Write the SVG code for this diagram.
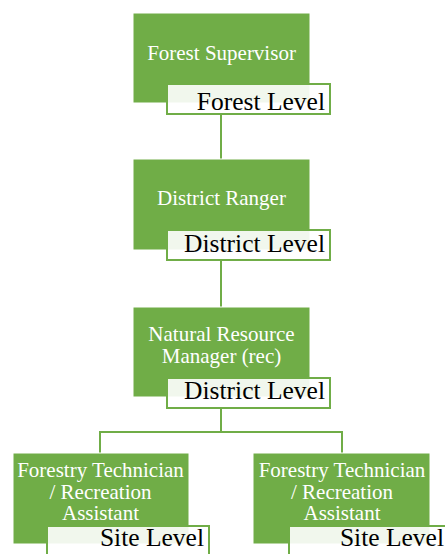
<svg xmlns="http://www.w3.org/2000/svg" width="445" height="554" viewBox="0 0 445 554">
<style>
.box{fill:#70ad47;stroke:#ffffff;stroke-width:1}
.lab{fill:#ffffff;fill-opacity:0.9;stroke:#70ad47;stroke-width:2}
.bt{font-family:'Liberation Serif','Times New Roman','DejaVu Serif',serif;font-size:21px;fill:#ffffff;text-anchor:middle}
.lt{font-family:'Liberation Serif','Times New Roman','DejaVu Serif',serif;font-size:25.5px;fill:#000000;text-anchor:end}
.con{fill:none;stroke:#70ad47;stroke-width:2}
</style>
<rect width="445" height="554" fill="#ffffff"/>
<g id="connectors">
<path class="con" d="M221,114 V159"/>
<path class="con" d="M221,260 V307"/>
<path class="con" d="M221,408 V432"/>
<path class="con" d="M100,453 V432 H342 V453"/>
</g>
<g id="forest-supervisor">
<rect class="box" x="133" y="13" width="177" height="90"/>
<text class="bt" x="221.5" y="60" font-family="Liberation Serif, serif">Forest Supervisor</text>
<rect class="lab" x="167" y="84" width="163" height="30"/>
<text class="lt" x="325" y="110" font-family="Liberation Serif, serif">Forest Level</text>
</g>
<g id="district-ranger">
<rect class="box" x="133" y="159" width="177" height="91"/>
<text class="bt" x="221.5" y="205" font-family="Liberation Serif, serif">District Ranger</text>
<rect class="lab" x="167" y="230" width="163" height="30"/>
<text class="lt" x="325" y="252" font-family="Liberation Serif, serif">District Level</text>
</g>
<g id="nrm">
<rect class="box" x="133" y="307" width="177" height="90"/>
<text class="bt" x="221.5" y="341" font-family="Liberation Serif, serif">Natural Resource</text>
<text class="bt" x="221.5" y="363" font-family="Liberation Serif, serif">Manager (rec)</text>
<rect class="lab" x="167" y="378" width="163" height="30"/>
<text class="lt" x="325" y="399" font-family="Liberation Serif, serif">District Level</text>
</g>
<g id="tech-left">
<rect class="box" x="13" y="453" width="176" height="91"/>
<text class="bt" x="100.5" y="477" font-family="Liberation Serif, serif">Forestry Technician</text>
<text class="bt" x="100.5" y="499" font-family="Liberation Serif, serif">/ Recreation</text>
<text class="bt" x="100.5" y="520" font-family="Liberation Serif, serif">Assistant</text>
<rect class="lab" x="47" y="526" width="162" height="40"/>
<text class="lt" x="204" y="546" font-family="Liberation Serif, serif">Site Level</text>
</g>
<g id="tech-right">
<rect class="box" x="253" y="453" width="177" height="91"/>
<text class="bt" x="342" y="477" font-family="Liberation Serif, serif">Forestry Technician</text>
<text class="bt" x="342" y="499" font-family="Liberation Serif, serif">/ Recreation</text>
<text class="bt" x="342" y="520" font-family="Liberation Serif, serif">Assistant</text>
<rect class="lab" x="289" y="526" width="163" height="40"/>
<text class="lt" x="444" y="546" font-family="Liberation Serif, serif">Site Level</text>
</g>
</svg>
